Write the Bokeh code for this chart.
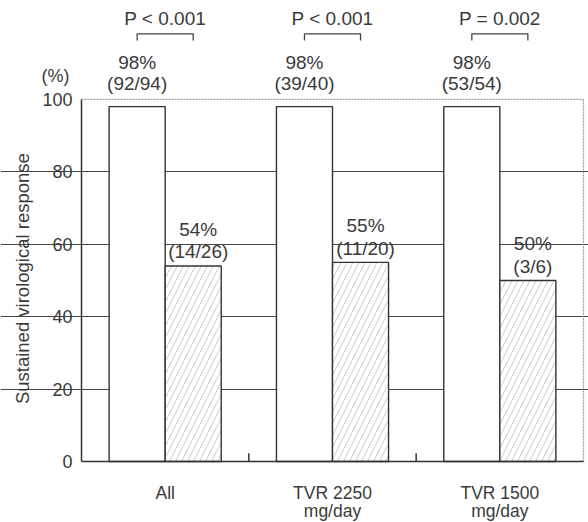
import math
from bokeh.plotting import figure
from bokeh.models import Range1d, FixedTicker, ColumnDataSource, LinearAxis
from bokeh.core.properties import value
from bokeh.embed import file_html
from bokeh.resources import INLINE

# ---- data ----
groups = ["All", "TVR 2250\nmg/day", "TVR 1500\nmg/day"]
svr_rvr = [98, 98, 98]
svr_rvr_n = ["(92/94)", "(39/40)", "(53/54)"]
svr_no_rvr = [54, 55, 50]
svr_no_rvr_n = ["(14/26)", "(11/20)", "(3/6)"]
p_values = ["P < 0.001", "P < 0.001", "P = 0.002"]
y_ticks = [0, 20, 40, 60, 80, 100]
grid_ticks = [20, 40, 60, 80]
y_title = "Sustained virological response"
y_unit = "(%)"

# ---- style ----
FONT = "Liberation Sans"
TXT = "#3a3a3a"
LINE = "#333333"
W = 0.335
PX_X = 167.3   # pixels per x unit
PX_Y = 3.621   # pixels per y unit
centers = [i + 0.5 for i in range(len(groups))]
line1 = [g.split("\n")[0] for g in groups]
line2 = [g.split("\n")[1] if "\n" in g else "" for g in groups]

p = figure(width=588, height=522,
           x_range=Range1d(-81 / PX_X, 3 + 5 / PX_X),
           y_range=Range1d(-61 / PX_Y, 461 / PX_Y),
           output_backend="svg", toolbar_location=None, min_border=0)
p.outline_line_color = None
p.background_fill_color = "white"
p.border_fill_color = "white"


def style_x(ax, labels, standoff, show_line):
    ax.fixed_location = 0
    ax.bounds = (0, 3)
    ax.ticker = FixedTicker(ticks=centers)
    ax.major_label_overrides = {c: t for c, t in zip(centers, labels)}
    ax.major_tick_in = 0
    ax.major_tick_out = 0
    ax.minor_tick_line_color = None
    ax.axis_line_color = LINE if show_line else None
    ax.axis_line_width = 1.5
    ax.major_label_standoff = standoff
    ax.major_label_text_font = FONT
    ax.major_label_text_font_size = "17.5px"
    ax.major_label_text_color = TXT


style_x(p.xaxis[0], line1, 21, True)
ax2 = LinearAxis()
style_x(ax2, line2, 39, False)
p.add_layout(ax2, "below")

p.yaxis.fixed_location = 0
p.yaxis.bounds = (0, 100)
p.yaxis.ticker = FixedTicker(ticks=y_ticks)
p.yaxis.major_tick_in = 0
p.yaxis.major_tick_out = 0
p.yaxis.minor_tick_line_color = None
p.yaxis.axis_line_color = LINE
p.yaxis.axis_line_width = 1.5
p.yaxis.major_label_standoff = 9
p.yaxis.major_label_text_font = FONT
p.yaxis.major_label_text_font_size = "18px"
p.yaxis.major_label_text_color = TXT

p.xgrid.grid_line_color = None
p.ygrid.ticker = FixedTicker(ticks=grid_ticks)
p.ygrid.bounds = (0, 3)
p.ygrid.grid_line_color = "#444444"
p.ygrid.grid_line_width = 1.2

# frame borders (top at 100 and right side, dotted light)
p.segment(x0=[0], y0=[100], x1=[3], y1=[100], line_color="#9a9a9a", line_width=1.2, line_dash="2 1")
p.segment(x0=[3], y0=[0], x1=[3], y1=[100], line_color="#9a9a9a", line_width=1.2, line_dash="2 1")

# small inward ticks between groups
p.segment(x0=[1, 2], y0=[0, 0], x1=[1, 2], y1=[2.3, 2.3], line_color=LINE, line_width=1.5)

x_white = [c - W / 2 for c in centers]
x_hatch = [c + W / 2 for c in centers]

p.vbar(x=x_white, width=W, top=svr_rvr, bottom=0, fill_color="white",
       line_color=LINE, line_width=1.4)
p.vbar(x=x_hatch, width=W, top=svr_no_rvr, bottom=0, fill_color="white",
       line_color=LINE, line_width=1.4, hatch_pattern="/", hatch_color="#aaaaaa",
       hatch_scale=12, hatch_weight=0.6)

# value labels
src_w = ColumnDataSource(dict(
    x=x_white,
    y1=[v + 12.2 for v in svr_rvr],
    y2=[v + 6.4 for v in svr_rvr],
    t1=[f"{v}%" for v in svr_rvr],
    t2=svr_rvr_n))
src_h = ColumnDataSource(dict(
    x=[x + 0.03 for x in x_hatch],
    y1=[v + 10.1 for v in svr_no_rvr],
    y2=[v + 3.9 for v in svr_no_rvr],
    t1=[f"{v}%" for v in svr_no_rvr],
    t2=svr_no_rvr_n))
for src in (src_w, src_h):
    for yk, tk in (("y1", "t1"), ("y2", "t2")):
        p.text(x="x", y=yk, text=tk, source=src, text_font=value(FONT),
               text_font_size="19px", text_color=TXT, text_align="center",
               text_baseline="middle")

# significance brackets
xs = [[x_white[i], x_white[i], x_hatch[i], x_hatch[i]] for i in range(len(groups))]
ys = [[116.3, 118.1, 118.1, 116.3] for _ in groups]
p.multi_line(xs=xs, ys=ys, line_color="#444444", line_width=1.3)
p.text(x=centers, y=[122.4] * len(groups), text=p_values, text_font=value(FONT),
       text_font_size="19px", text_color=TXT, text_align="center", text_baseline="middle")

# axis title and unit
p.text(x=[-59 / PX_X], y=[50.5], text=[y_title], angle=math.pi / 2,
       text_font=value(FONT), text_font_size="18.5px", text_color=TXT,
       text_align="center", text_baseline="middle")
p.text(x=[-26 / PX_X], y=[106.4], text=[y_unit], text_font=value(FONT),
       text_font_size="18px", text_color=TXT, text_align="center", text_baseline="middle")

open("out.html", "w").write(file_html(p, INLINE))
